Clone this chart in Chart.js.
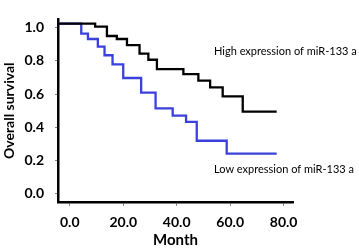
<!DOCTYPE html>
<html>
<head>
<meta charset="utf-8">
<script src="https://cdn.jsdelivr.net/npm/chart.js@4.4.1/dist/chart.umd.min.js"></script>
<style>
  html, body { margin: 0; padding: 0; background: #fff; }
  #wrap { width: 359px; height: 249px; position: relative; }
</style>
</head>
<body>
<div id="wrap"><canvas id="kmChart"></canvas></div>
<script>
// Kaplan-Meier steps: month of each drop, survival after it
const highMonths = [-4.4, 9.5, 13.9, 17.6, 21.4, 26.1, 29.4, 32.6, 42.5, 48.1, 52.5, 57.2, 64.7, 77.4];
const highSurvival = [1.024, 1.006, 0.950, 0.932, 0.895, 0.844, 0.807, 0.751, 0.720, 0.681, 0.641, 0.586, 0.494, 0.494];

const lowMonths = [-4.4, 4.3, 6.8, 10.5, 13.0, 16.0, 20.0, 26.7, 32.1, 38.5, 43.5, 47.5, 58.7, 77.4];
const lowSurvival = [1.024, 0.964, 0.932, 0.886, 0.834, 0.779, 0.697, 0.609, 0.514, 0.470, 0.433, 0.319, 0.241, 0.241];

const xTicks = [0, 20, 40, 60, 80];
const yTicks = [0, 0.2, 0.4, 0.6, 0.8, 1.0];

const seriesLabels = ['High expression of miR-133 a', 'Low expression of miR-133 a'];

function toPoints(xs, ys) {
    return xs.map((x, i) => ({ x: x, y: ys[i] }));
}

// text labels next to the curves
const curveLabels = {
    id: 'curveLabels',
    afterDatasetsDraw(chart) {
        const ctx = chart.ctx;
        ctx.save();
        ctx.font = '11px Lato';
        ctx.fillStyle = '#000';
        ctx.textBaseline = 'middle';
        ctx.textAlign = 'left';
        ctx.fillText(seriesLabels[0], 214, 51);
        ctx.fillText(seriesLabels[1], 214, 169);
        ctx.restore();
    }
};

const axisFont = { family: 'Lato', size: 14, weight: 'bold' };

new Chart(document.getElementById('kmChart'), {
    type: 'line',
    data: {
        datasets: [
            {
                label: seriesLabels[0],
                data: toPoints(highMonths, highSurvival),
                borderColor: '#000000',
                borderWidth: 2.3,
                stepped: true,
                pointRadius: 0,
                fill: false
            },
            {
                label: seriesLabels[1],
                data: toPoints(lowMonths, lowSurvival),
                borderColor: '#3a41dc',
                borderWidth: 2.3,
                stepped: true,
                pointRadius: 0,
                fill: false
            }
        ]
    },
    options: {
        responsive: true,
        maintainAspectRatio: false,
        animation: false,
        layout: { padding: { top: 3, right: 66, left: 0, bottom: 0 } },
        scales: {
            x: {
                type: 'linear',
                min: -4.4,
                max: 83.5,
                afterBuildTicks: function(scale) {
                    scale.ticks = xTicks.map(v => ({ value: v }));
                },
                afterFit: function(scale) { scale.height = 47; },
                grid: { display: true, drawOnChartArea: false, drawTicks: true, tickLength: 4, color: '#888' },
                border: { display: true, color: '#000', width: 2.5 },
                ticks: {
                    color: '#000',
                    font: axisFont,
                    padding: 8,
                    maxRotation: 0,
                    callback: function(value) { return value.toFixed(1); }
                },
                title: {
                    display: true,
                    text: 'Month',
                    color: '#000',
                    font: { family: 'Lato', size: 15, weight: 'bold' },
                    padding: { top: 0, bottom: 0 }
                }
            },
            y: {
                min: -0.05,
                max: 1.05,
                afterBuildTicks: function(scale) {
                    scale.ticks = yTicks.map(v => ({ value: v }));
                },
                afterFit: function(scale) { scale.width = 58; },
                grid: { display: true, drawOnChartArea: false, drawTicks: true, tickLength: 3, color: '#888' },
                border: { display: true, color: '#000', width: 2.5 },
                ticks: {
                    color: '#000',
                    font: axisFont,
                    padding: 11,
                    callback: function(value) { return value.toFixed(1); }
                },
                title: {
                    display: true,
                    text: 'Overall survival',
                    color: '#000',
                    font: { family: 'Lato', size: 14, weight: 'bold' },
                    padding: { top: 1, bottom: 0 }
                }
            }
        },
        plugins: {
            legend: { display: false },
            tooltip: { enabled: false },
            title: { display: false }
        }
    },
    plugins: [curveLabels]
});
</script>
</body>
</html>
